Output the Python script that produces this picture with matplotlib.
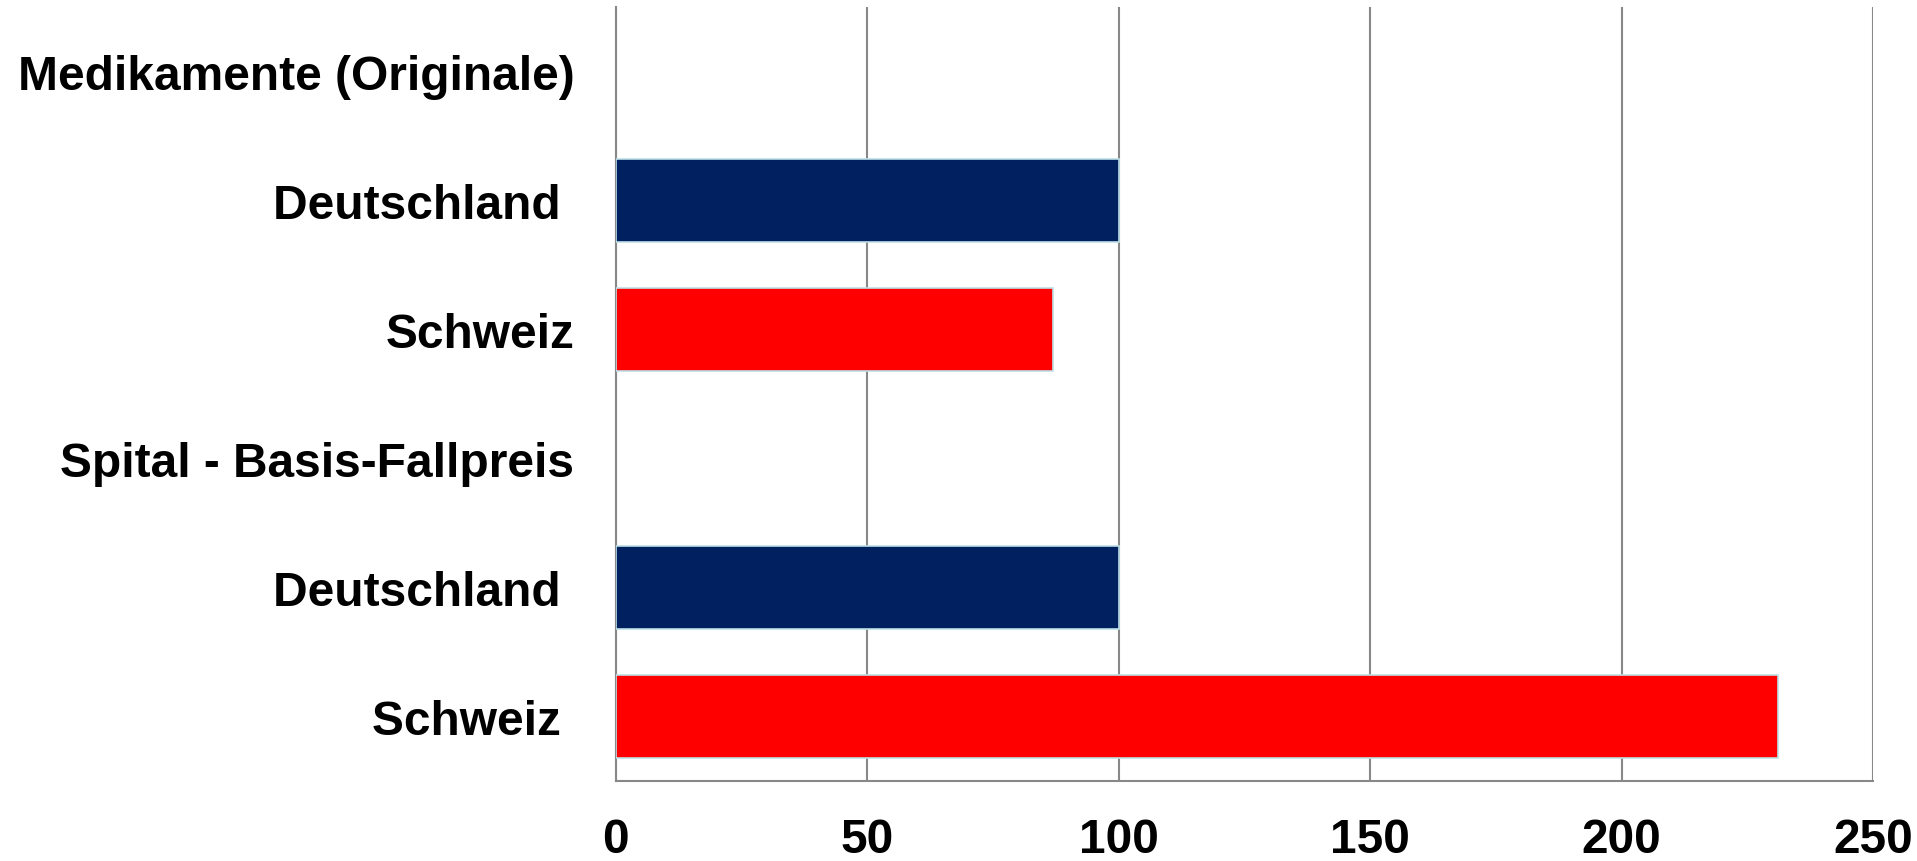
import matplotlib
matplotlib.use('Agg')
import matplotlib.pyplot as plt

labels = ['Medikamente (Originale)', 'Deutschland ', 'Schweiz',
          'Spital - Basis-Fallpreis', 'Deutschland ', 'Schweiz ']
values = [None, 100, 87, None, 100, 231]
colors = [None, '#002060', '#FF0000', None, '#002060', '#FF0000']
xticks = [0, 50, 100, 150, 200, 250]

plt.rcParams['font.family'] = ['Liberation Sans', 'DejaVu Sans']
plt.rcParams['font.weight'] = 'bold'

fig = plt.figure(figsize=(19.17, 8.62), dpi=100)
ax = fig.add_axes([0.3213, 0.0928, 0.9771 - 0.3213, 0.9907 - 0.0928])

for i, (v, c) in enumerate(zip(values, colors)):
    if v is None:
        continue
    ax.barh(i, v, height=0.64, color=c, edgecolor='#BDE0E6', linewidth=1.2, zorder=3)

ax.set_ylim(5.5, -0.5)
ax.set_xlim(0, 250)
ax.set_yticks(range(len(labels)))
ax.set_yticklabels(labels, fontsize=34.5, fontweight='bold')
ax.set_xticks(xticks)
ax.set_xticklabels([str(t) for t in xticks], fontsize=34.5, fontweight='bold')
ax.tick_params(axis='y', length=0, pad=30)
ax.tick_params(axis='x', length=0, pad=26)

ax.grid(axis='x', color='#888888', linewidth=1.5, zorder=0)
ax.spines['top'].set_visible(False)
ax.spines['right'].set_visible(False)
for s in ('left', 'bottom'):
    ax.spines[s].set_color('#888888')
    ax.spines[s].set_linewidth(1.5)

fig.savefig('out.png', dpi=100)
